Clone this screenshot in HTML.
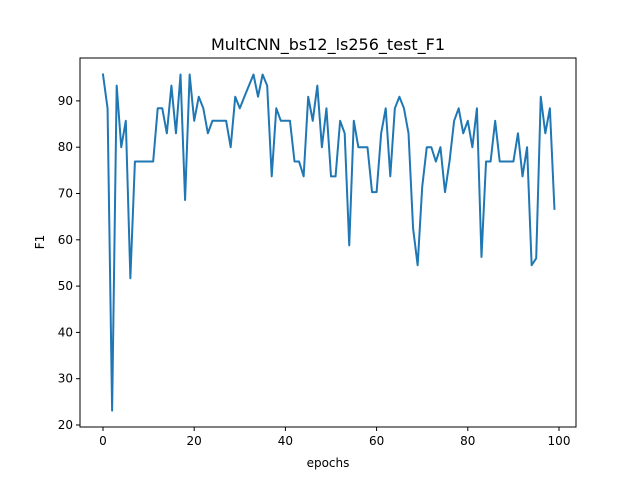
<!DOCTYPE html>
<html><head><meta charset="utf-8"><style>body{margin:0;background:#fff}svg{display:block}text{font-family:"DejaVu Sans","Liberation Sans",sans-serif;fill:#000}</style></head>
<body>
<svg id="chart" width="640" height="480"></svg>
<script>
const epochs = Array.from({length:100},(_,i)=>i);
const f1Values = [95.7,88.4,23.1,93.3,80,85.7,51.7,76.9,76.9,76.9,76.9,76.9,88.4,88.4,83,93.3,83,95.7,68.6,95.7,
85.7,90.9,88.4,83,85.7,85.7,85.7,85.7,80,90.9,88.4,90.9,93.3,95.7,90.9,95.7,93.3,73.7,88.4,85.7,
85.7,85.7,76.9,76.9,73.7,90.9,85.7,93.3,80,88.4,73.7,73.7,85.7,83,58.8,85.7,80,80,80,70.3,
70.3,83,88.4,73.7,88.4,90.9,88.4,83,62.5,54.5,71.4,80,80,76.9,80,70.3,77,85.7,88.4,83,
85.7,80,88.4,56.3,76.9,76.9,85.7,76.9,76.9,76.9,76.9,83,73.7,80,54.5,56,90.9,83,88.4,66.7];
const xTicks = [0,20,40,60,80,100];
const yTicks = [20,30,40,50,60,70,80,90];
const NS='http://www.w3.org/2000/svg';
const svg=document.getElementById('chart');
const L=80,R=576,T=58,B=427;
const xs=v=>103+v*4.56;
const ys=v=>425-(v-20)*4.63;
function mk(t,a,p){const e=document.createElementNS(NS,t);for(const k in a)e.setAttribute(k,a[k]);(p||svg).appendChild(e);return e;}
const title=mk('text',{x:328,y:50,'text-anchor':'middle','font-size':16});title.textContent='MultCNN_bs12_ls256_test_F1';


const pts=f1Values.map((v,i)=>xs(epochs[i]).toFixed(2)+','+ys(v).toFixed(2)).join(' ');
const line=mk('polyline',{points:pts,fill:'none',stroke:'#1f77b4','stroke-width':2,'stroke-linejoin':'round','stroke-linecap':'square'});


const frame=mk('rect',{x:L,y:T,width:R-L,height:B-T,fill:'none',stroke:'#000','stroke-width':1});


xTicks.forEach(t=>{const x=xs(t);mk('line',{x1:x,x2:x,y1:B,y2:B+4,stroke:'#000'});
const tx=mk('text',{x:x,y:B+18,'text-anchor':'middle','font-size':12});tx.textContent=t;

});
yTicks.forEach(t=>{const y=ys(t);mk('line',{x1:L-4,x2:L,y1:y,y2:y,stroke:'#000'});
const tx=mk('text',{x:L-7,y:y+4,'text-anchor':'end','font-size':12});tx.textContent=t;

});
const xl=mk('text',{x:328,y:467,'text-anchor':'middle','font-size':12});xl.textContent='epochs';


const yl=mk('text',{x:0,y:0,'text-anchor':'middle','font-size':12,transform:'translate(44,242) rotate(-90)'});yl.textContent='F1';


</script>
</body></html>
